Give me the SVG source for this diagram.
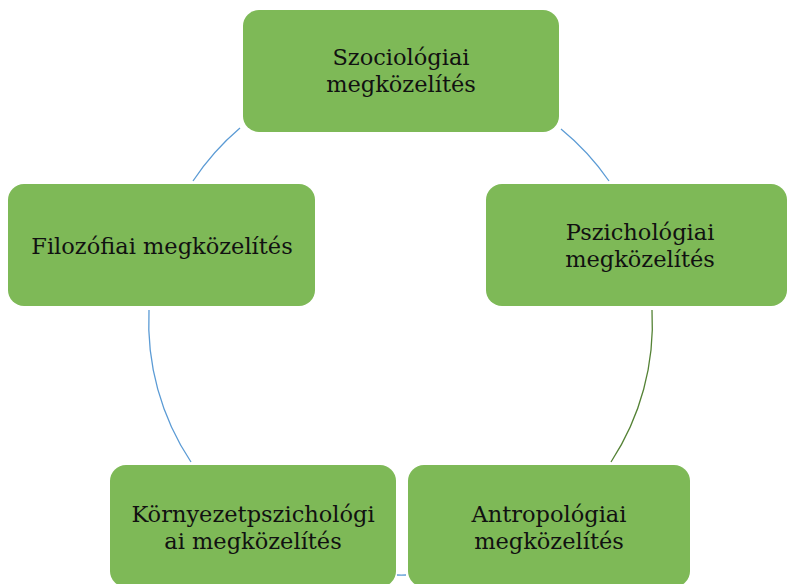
<svg xmlns="http://www.w3.org/2000/svg" width="788" height="584" viewBox="0 0 788 584">
<style>
.box{fill:#7EB957;}
.t{font-family:"DejaVu Serif","Liberation Serif",serif;font-size:22.5px;fill:#111;text-anchor:middle;}
.c{fill:none;stroke-width:1.3;}
.b{stroke:#5B9BD5;}
.g{stroke:#548235;}
</style>
<rect width="788" height="584" fill="#fff"/>
<g id="connectors">
<path class="c b" d="M193,181 A252,252 0 0 1 240,128"/>
<path class="c b" d="M561,129 A252,252 0 0 1 609,181"/>
<path class="c g" d="M652,310 A252,252 0 0 1 611,462"/>
<path class="c b" d="M406,575 A252,252 0 0 1 397,575"/>
<path class="c b" d="M191,462 A252,252 0 0 1 149,310"/>
</g>
<g id="szociologiai">
<rect class="box" x="243" y="10" width="316" height="122" rx="16"/>
<text class="t" x="401" y="65">Szociológiai</text>
<text class="t" x="401" y="92">megközelítés</text>
</g>
<g id="pszichologiai">
<rect class="box" x="486" y="184" width="301" height="122" rx="16"/>
<text class="t" x="640" y="240">Pszichológiai</text>
<text class="t" x="640" y="267">megközelítés</text>
</g>
<g id="antropologiai">
<rect class="box" x="408" y="465" width="282" height="122" rx="16"/>
<text class="t" x="549" y="522">Antropológiai</text>
<text class="t" x="549" y="549">megközelítés</text>
</g>
<g id="kornyezetpszichologiai">
<rect class="box" x="110" y="465" width="286" height="122" rx="16"/>
<text class="t" x="253" y="522">Környezetpszichológi</text>
<text class="t" x="253" y="549">ai megközelítés</text>
</g>
<g id="filozofiai">
<rect class="box" x="8" y="184" width="307" height="122" rx="16"/>
<text class="t" x="162" y="254">Filozófiai megközelítés</text>
</g>
</svg>
